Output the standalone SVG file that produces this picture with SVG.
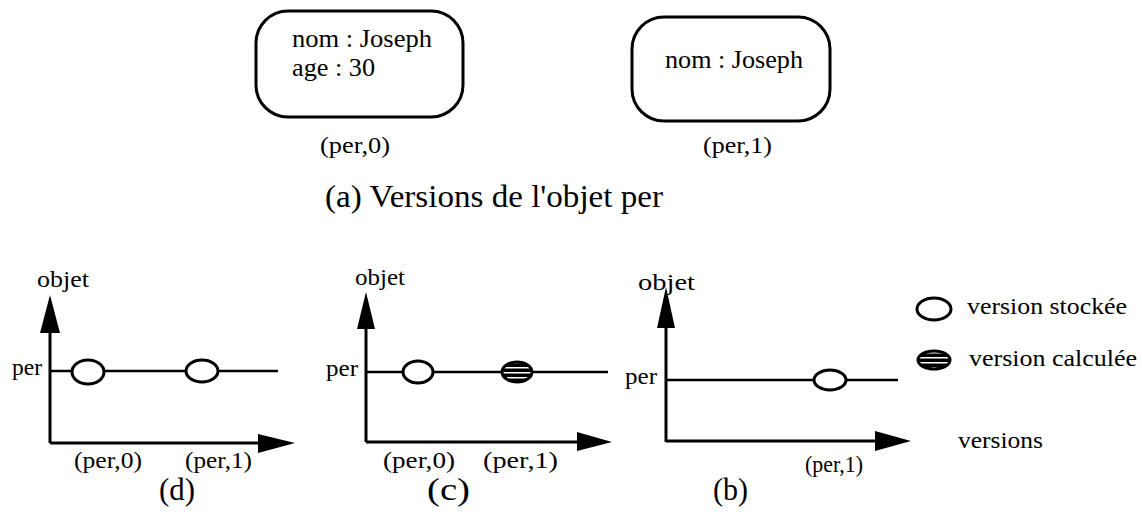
<svg xmlns="http://www.w3.org/2000/svg" width="1142" height="514" viewBox="0 0 1142 514">
<style>
text{font-family:"Liberation Serif","Times New Roman",serif;fill:#000}
.t{font-size:26px}
.s{font-size:24px}
.p{font-size:23px}
.big{font-size:32px}
.lab{font-size:31px}
.box{fill:#fff;stroke:#000;stroke-width:3}
.ax{stroke:#000;stroke-width:3;fill:none}
.ln{stroke:#000;stroke-width:2.5;fill:none}
.ov{fill:#fff;stroke:#000;stroke-width:3}
.hv{fill:url(#hatch);stroke:#000;stroke-width:3}
.ah{fill:#000}
</style>
<defs>
<pattern id="hatch" patternUnits="userSpaceOnUse" width="8" height="5">
<rect width="8" height="5" fill="#000"/>
<rect y="2" width="8" height="1.5" fill="#fff"/>
</pattern>
</defs>
<rect width="1142" height="514" fill="#fff"/>

<g id="node-per0">
<rect class="box" x="256" y="11" width="207" height="106" rx="32"/>
<text class="t" x="292" y="47" textLength="140" lengthAdjust="spacingAndGlyphs">nom : Joseph</text>
<text class="t" x="292" y="76" textLength="83" lengthAdjust="spacingAndGlyphs">age : 30</text>
<text class="p" x="320" y="153" textLength="70" lengthAdjust="spacingAndGlyphs">(per,0)</text>
</g>
<g id="node-per1">
<rect class="box" x="632" y="17" width="198" height="104" rx="32"/>
<text class="t" x="665" y="68" textLength="138" lengthAdjust="spacingAndGlyphs">nom : Joseph</text>
<text class="p" x="703" y="153" textLength="69" lengthAdjust="spacingAndGlyphs">(per,1)</text>
</g>
<text class="big" x="325" y="207" textLength="338" lengthAdjust="spacingAndGlyphs">(a) Versions de l'objet per</text>

<g id="chart-d">
<g id="connectors-d">
<line class="ax" x1="50" y1="443" x2="50" y2="330"/>
<polygon class="ah" points="50,295 40,333 60,333"/>
<line class="ax" x1="50" y1="443" x2="260" y2="443"/>
<polygon class="ah" points="295,443 258,434 258,453"/>
<line class="ln" x1="50" y1="371" x2="278" y2="371"/>
</g>
<ellipse class="ov" cx="88" cy="372" rx="16" ry="12"/>
<ellipse class="ov" cx="202" cy="371" rx="16" ry="11"/>
<text class="s" x="37" y="287" textLength="52" lengthAdjust="spacingAndGlyphs">objet</text>
<text class="s" x="12" y="375" textLength="30" lengthAdjust="spacingAndGlyphs">per</text>
<text class="p" x="74" y="468" textLength="68" lengthAdjust="spacingAndGlyphs">(per,0)</text>
<text class="p" x="185" y="468" textLength="67" lengthAdjust="spacingAndGlyphs">(per,1)</text>
<text class="lab" x="159" y="500" textLength="36" lengthAdjust="spacingAndGlyphs">(d)</text>
</g>

<g id="chart-c">
<g id="connectors-c">
<line class="ax" x1="366" y1="442" x2="366" y2="326"/>
<polygon class="ah" points="366,292 357,329 375,329"/>
<line class="ax" x1="366" y1="442" x2="580" y2="442"/>
<polygon class="ah" points="612,442 577,432 577,451"/>
<line class="ln" x1="366" y1="372" x2="608" y2="372"/>
</g>
<ellipse class="ov" cx="418" cy="372" rx="15" ry="11"/>
<ellipse class="hv" cx="517" cy="372" rx="15" ry="10"/>
<text class="s" x="355" y="285" textLength="50" lengthAdjust="spacingAndGlyphs">objet</text>
<text class="s" x="326" y="376" textLength="32" lengthAdjust="spacingAndGlyphs">per</text>
<text class="p" x="383" y="468" textLength="72" lengthAdjust="spacingAndGlyphs">(per,0)</text>
<text class="p" x="483" y="468" textLength="75" lengthAdjust="spacingAndGlyphs">(per,1)</text>
<text class="lab" x="427" y="500" textLength="43" lengthAdjust="spacingAndGlyphs">(c)</text>
</g>

<g id="chart-b">
<g id="connectors-b">
<line class="ax" x1="666" y1="442" x2="666" y2="325"/>
<polygon class="ah" points="666,287 657,328 675,328"/>
<line class="ax" x1="666" y1="441" x2="878" y2="441"/>
<polygon class="ah" points="911,441 875,431 875,451"/>
<line class="ln" x1="666" y1="380" x2="898" y2="380"/>
</g>
<ellipse class="ov" cx="830" cy="380" rx="16" ry="10"/>
<text class="s" x="638" y="290" textLength="57" lengthAdjust="spacingAndGlyphs">objet</text>
<text class="s" x="625" y="384" textLength="32" lengthAdjust="spacingAndGlyphs">per</text>
<text class="p" x="805" y="472" textLength="58" lengthAdjust="spacingAndGlyphs">(per,1)</text>
<text class="lab" x="713" y="500" textLength="35" lengthAdjust="spacingAndGlyphs">(b)</text>
</g>

<g id="legend">
<ellipse class="ov" cx="934" cy="309" rx="17" ry="11"/>
<text class="s" x="967" y="314" textLength="160" lengthAdjust="spacingAndGlyphs">version stockée</text>
<ellipse class="hv" cx="934" cy="360" rx="16" ry="9"/>
<text class="s" x="969" y="366" textLength="168" lengthAdjust="spacingAndGlyphs">version calculée</text>
<text class="s" x="958" y="448" textLength="85" lengthAdjust="spacingAndGlyphs">versions</text>
</g>
</svg>
